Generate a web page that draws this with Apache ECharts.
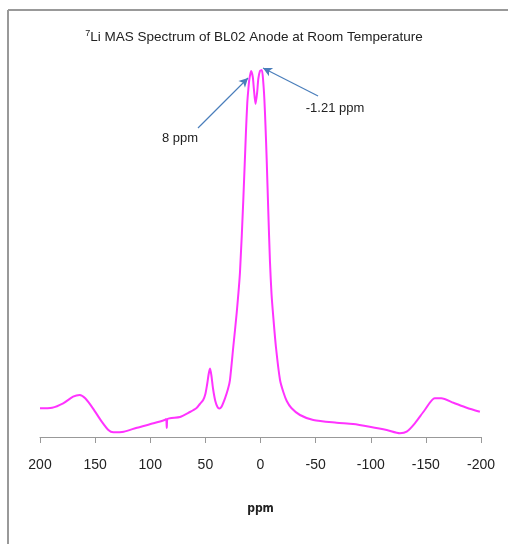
<!DOCTYPE html>
<html><head><meta charset="utf-8">
<script src="https://cdn.jsdelivr.net/npm/echarts@6/dist/echarts.min.js"></script>
<style>html,body{margin:0;padding:0;background:#fff}#c{width:508px;height:544px}</style>
</head><body><div id="c"></div>
<script>
const ppm = [200,189,179,170,164,159,152,144,138,133.5,124,112,97,87,85.6,85,84.4,73,64,58,55,52,50,48.5,47,45.8,44.6,43,41,39,37.4,35.5,32.2,29.5,27.7,24.7,21.6,18.6,15.6,13.2,12,11,10.2,8.5,7,6,4.5,3,2,0.5,-1.2,-2.5,-3.5,-4.5,-5.6,-7,-8.6,-10,-11.6,-14,-17.7,-20.7,-23.8,-28,-35.8,-47.9,-69,-84,-99,-114.5,-126.5,-132.6,-140,-149,-158,-164,-175,-187,-199];
const intensity = [28.7,29.3,33.7,40.3,42,38.7,28.7,15.3,7,4.7,5.3,9.3,13.7,17,18,9,18,20,25,29,33,37,43,52,63,68.5,62,48,36,30,28.5,30,38.7,48,57,90,124,165,237,305,334,348,357,366,360,348,333,345,358,366,367,355,338,312,278,228,175,143,120,90,57,45,36,29,22,17,14.3,13,10.3,7,3.7,5.3,13.7,27,38.7,38.7,34.3,29.3,25.3];
const xTicks = [200,150,100,50,0,-50,-100,-150,-200];
const annotations = [
  {label:'8 ppm', from:[56.7,309], to:[11.3,359], text:[73,299]},
  {label:'-1.21 ppm', from:[-52.2,341], to:[-2.3,369], text:[-67.6,329]}
];
const font = 'Arial,"Liberation Sans",sans-serif';
const chart = echarts.init(document.getElementById('c'));
chart.setOption({
  animation:false,
  title:{
    text:'{sup|7}Li MAS Spectrum of BL02 Anode at Room Temperature',
    left:'center', top:24,
    textStyle:{fontFamily:font,fontSize:13.5,fontWeight:'normal',color:'#222',
      rich:{sup:{fontFamily:font,fontSize:9,verticalAlign:'top',padding:[0,0,8,0],color:'#222'}}}
  },
  graphic:[
    {type:'line',shape:{x1:8,y1:10,x2:508,y2:10},style:{stroke:'#999',lineWidth:2}},
    {type:'line',shape:{x1:8,y1:10,x2:8,y2:544},style:{stroke:'#999',lineWidth:2}}
  ],
  grid:{left:40,right:27,top:37,bottom:107},
  xAxis:{type:'value',inverse:true,min:-200,max:200,interval:50,
    axisLine:{onZero:false,lineStyle:{color:'#999',width:1}},
    axisTick:{show:true,length:6,lineStyle:{color:'#999'}},
    splitLine:{show:false},
    axisLabel:{margin:21,fontFamily:font,fontSize:14,color:'#222',
      customValues:xTicks},
    name:'ppm',nameLocation:'middle',nameGap:66,
    nameTextStyle:{fontFamily:'"DejaVu Sans Condensed","DejaVu Sans",sans-serif',fontSize:12,fontWeight:'bold',color:'#222'}
  },
  yAxis:{type:'value',min:0,max:400,show:false},
  series:[{
    type:'line',
    data:ppm.map((p,i)=>[p,intensity[i]]),
    showSymbol:false,smooth:0.25,
    lineStyle:{color:'#FF33FF',width:2},
    markLine:{silent:true,symbol:['none','arrow'],symbolSize:[7,9],
      lineStyle:{color:'#4A7EBB',width:1.2,type:'solid',opacity:1},label:{show:false},
      emphasis:{disabled:true},
      data:annotations.map(a=>[{coord:a.from},{coord:a.to}])},
    markPoint:{silent:true,symbolSize:0,
      label:{show:true,fontFamily:font,fontSize:13,color:'#222',formatter:p=>p.name},
      data:annotations.map(a=>({name:a.label,coord:a.text}))}
  }]
});
</script></body></html>
